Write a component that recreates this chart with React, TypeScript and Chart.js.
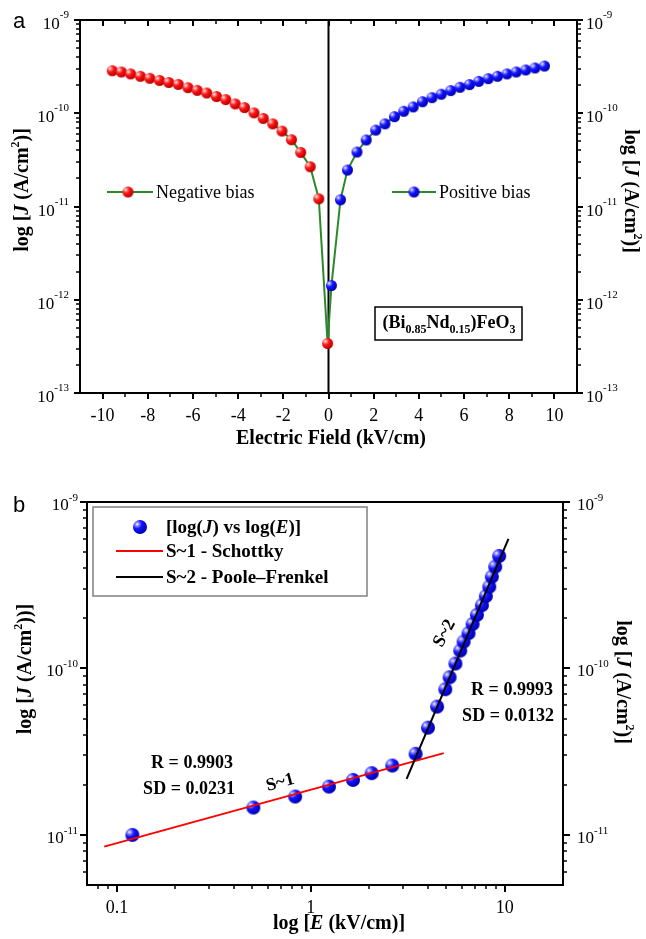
import React, { useEffect, useRef } from 'react';
import { Chart, registerables } from 'chart.js';
Chart.register(...registerables);

const SERIF = '"Liberation Serif", "Times New Roman", Times, serif';
const SANS = '"Liberation Sans", Arial, Helvetica, sans-serif';

// ---------- Panel (a) data ----------
const negE = [-9.57, -9.17, -8.76, -8.33, -7.91, -7.48, -7.07, -6.65, -6.22, -5.81, -5.39, -4.96, -4.55, -4.13, -3.72, -3.30, -2.89, -2.47, -2.06, -1.64, -1.23, -0.81, -0.43, -0.04];
const negJ = [2.86e-10, 2.77e-10, 2.64e-10, 2.49e-10, 2.37e-10, 2.25e-10, 2.14e-10, 2.04e-10, 1.88e-10, 1.76e-10, 1.65e-10, 1.51e-10, 1.40e-10, 1.26e-10, 1.15e-10, 1.01e-10, 8.8e-11, 7.7e-11, 6.45e-11, 5.2e-11, 3.8e-11, 2.67e-11, 1.21e-11, 3.4e-13];
const posE = [0.13, 0.53, 0.84, 1.26, 1.67, 2.09, 2.50, 2.92, 3.33, 3.75, 4.16, 4.58, 4.99, 5.41, 5.82, 6.24, 6.65, 7.07, 7.48, 7.90, 8.31, 8.73, 9.14, 9.56];
const posJ = [1.42e-12, 1.18e-11, 2.46e-11, 3.84e-11, 5.17e-11, 6.6e-11, 7.7e-11, 9.2e-11, 1.05e-10, 1.17e-10, 1.33e-10, 1.47e-10, 1.6e-10, 1.75e-10, 1.9e-10, 2.03e-10, 2.2e-10, 2.35e-10, 2.49e-10, 2.64e-10, 2.77e-10, 2.91e-10, 3.06e-10, 3.21e-10];
const zeroLineE = [0, 0];
const zeroLineJ = [1e-13, 1e-9];
const xTicksA = [-10, -8, -6, -4, -2, 0, 2, 4, 6, 8, 10];
const xMinorA = [-9, -7, -5, -3, -1, 1, 3, 5, 7, 9];
const yDecadesA = [-13, -12, -11, -10, -9];

// ---------- Panel (b) data ----------
const bE = [0.12, 0.505, 0.83, 1.24, 1.65, 2.06, 2.63, 3.47, 4.02, 4.48, 4.94, 5.20, 5.57, 5.90, 6.14, 6.51, 6.83, 7.19, 7.63, 8.0, 8.33, 8.59, 8.94, 9.37];
const bJ = [1.0e-11, 1.46e-11, 1.70e-11, 1.95e-11, 2.14e-11, 2.35e-11, 2.61e-11, 3.07e-11, 4.41e-11, 5.9e-11, 7.5e-11, 8.86e-11, 1.07e-10, 1.28e-10, 1.45e-10, 1.63e-10, 1.85e-10, 2.10e-10, 2.40e-10, 2.72e-10, 3.10e-10, 3.56e-10, 4.09e-10, 4.74e-10];
const schottkyE = [0.0859, 4.85];
const schottkyJ = [8.5e-12, 3.1e-11];
const pfE = [3.12, 10.46];
const pfJ = [2.17e-11, 6.0e-10];
const xTicksB = [0.1, 1, 10];
const xTickLabelsB = ['0.1', '1', '10'];
const yDecadesB = [-11, -10, -9];

// ---------- helpers ----------
type Seg = { t: string; size: number; b?: boolean; it?: boolean; dy?: number; family?: string };
const fontOf = (s: Seg) => `${s.it ? 'italic ' : ''}${s.b ? 'bold ' : ''}${s.size}px ${s.family || SERIF}`;
function richW(ctx: CanvasRenderingContext2D, segs: Seg[]) {
  let w = 0;
  for (const s of segs) { ctx.font = fontOf(s); w += ctx.measureText(s.t).width; }
  return w;
}
function rich(ctx: CanvasRenderingContext2D, segs: Seg[], x: number, y: number, align: 'left' | 'center' | 'right') {
  const w = richW(ctx, segs);
  let cx = align === 'left' ? x : align === 'center' ? x - w / 2 : x - w;
  ctx.textAlign = 'left';
  ctx.textBaseline = 'alphabetic';
  for (const s of segs) {
    ctx.font = fontOf(s);
    ctx.fillText(s.t, cx, y + (s.dy || 0));
    cx += ctx.measureText(s.t).width;
  }
}
function richRot(ctx: CanvasRenderingContext2D, segs: Seg[], cx: number, cy: number, angle: number, size: number) {
  ctx.save();
  ctx.translate(cx, cy);
  ctx.rotate(angle);
  rich(ctx, segs, 0, size * 0.3, 'center');
  ctx.restore();
}
function line(ctx: CanvasRenderingContext2D, x1: number, y1: number, x2: number, y2: number, w: number) {
  ctx.lineWidth = w;
  ctx.beginPath();
  ctx.moveTo(x1, y1);
  ctx.lineTo(x2, y2);
  ctx.stroke();
}
function makeBall(r: number, light: string, base: string, dark: string) {
  const s = Math.ceil(r * 2) + 2;
  const c = document.createElement('canvas');
  c.width = s; c.height = s;
  const g = c.getContext('2d')!;
  const cx = s / 2, cy = s / 2;
  const hx = cx - r * 0.4, hy = cy - r * 0.4;
  const grad = g.createRadialGradient(hx, hy, 0, hx, hy, r * 1.45);
  grad.addColorStop(0, '#ffffff');
  grad.addColorStop(0.18, light);
  grad.addColorStop(0.45, base);
  grad.addColorStop(1, dark);
  g.fillStyle = grad;
  g.beginPath();
  g.arc(cx, cy, r, 0, Math.PI * 2);
  g.fill();
  return c;
}
const pow10 = (exp: number, base: number, sup: number, supDy: number): Seg[] => [
  { t: '10', size: base },
  { t: `-${Math.abs(exp)}`, size: sup, dy: supDy },
];
const yTitle = (extraParen: boolean): Seg[] => [
  { t: 'log [', size: 20, b: true },
  { t: 'J', size: 20, b: true, it: true },
  { t: ' (A/cm', size: 20, b: true },
  { t: '2', size: 12, b: true, dy: -9 },
  { t: extraParen ? '))]' : ')]', size: 20, b: true },
];

const GREEN = '#2a8a2a';

function configA(redBall: HTMLCanvasElement, blueBall: HTMLCanvasElement): any {
  const neg = negE.map((x, i) => ({ x, y: negJ[i] }));
  const pos = posE.map((x, i) => ({ x, y: posJ[i] }));
  const zero = zeroLineE.map((x, i) => ({ x, y: zeroLineJ[i] }));
  const plugin = {
    id: 'axesA',
    afterDraw(chart: any) {
      const ctx: CanvasRenderingContext2D = chart.ctx;
      const { left, right, top, bottom } = chart.chartArea;
      const xs = chart.scales.x, ys = chart.scales.y;
      ctx.save();
      ctx.strokeStyle = '#000';
      ctx.fillStyle = '#000';
      ctx.lineWidth = 2;
      ctx.strokeRect(left, top, right - left, bottom - top);
      xTicksA.forEach(v => {
        const p = Math.round(xs.getPixelForValue(v));
        line(ctx, p, bottom, p, bottom + 6, 2);
        line(ctx, p, top, p, top + 6, 2);
      });
      xMinorA.forEach(v => {
        const p = Math.round(xs.getPixelForValue(v));
        line(ctx, p, bottom, p, bottom + 4, 1.5);
        line(ctx, p, top, p, top + 4, 1.5);
      });
      const yMaxExp = yDecadesA[yDecadesA.length - 1];
      yDecadesA.forEach(d => {
        const p = Math.round(ys.getPixelForValue(Math.pow(10, d)));
        line(ctx, left - 6, p, left, p, 2);
        line(ctx, right, p, right + 6, p, 2);
        if (d < yMaxExp) {
          for (let m = 2; m <= 9; m++) {
            const q = Math.round(ys.getPixelForValue(m * Math.pow(10, d)));
            line(ctx, left - 4, q, left, q, 1.5);
            line(ctx, right, q, right + 4, q, 1.5);
          }
        }
        rich(ctx, pow10(d, 17, 11, -11), left - 11, p + 9, 'right');
        rich(ctx, pow10(d, 17, 11, -11), right + 9, p + 9, 'left');
      });
      ctx.font = `18px ${SERIF}`;
      ctx.textAlign = 'center';
      ctx.textBaseline = 'alphabetic';
      xTicksA.forEach(v => {
        ctx.fillText(String(v), xs.getPixelForValue(v), bottom + 28);
      });
      // titles
      rich(ctx, [{ t: 'Electric Field (kV/cm)', size: 20, b: true }], 331, 444, 'center');
      richRot(ctx, yTitle(false), 22, 190, -Math.PI / 2, 20);
      richRot(ctx, yTitle(false), 631, 191, Math.PI / 2, 20);
      // panel letter
      ctx.font = `22px ${SANS}`;
      ctx.textAlign = 'left';
      ctx.fillText('a', 13, 28);
      // legend entries
      ctx.strokeStyle = GREEN;
      line(ctx, 107, 192, 153, 192, 2);
      ctx.drawImage(redBall, 128 - redBall.width / 2, 192 - redBall.height / 2);
      rich(ctx, [{ t: 'Negative bias', size: 18 }], 156, 198, 'left');
      line(ctx, 392, 192, 436, 192, 2);
      ctx.drawImage(blueBall, 414 - blueBall.width / 2, 192 - blueBall.height / 2);
      rich(ctx, [{ t: 'Positive bias', size: 18 }], 439, 198, 'left');
      // composition box
      ctx.strokeStyle = '#000';
      ctx.lineWidth = 1.5;
      ctx.strokeRect(375, 307, 147, 33);
      rich(ctx, [
        { t: '(Bi', size: 18, b: true },
        { t: '0.85', size: 12, b: true, dy: 5 },
        { t: 'Nd', size: 18, b: true },
        { t: '0.15', size: 12, b: true, dy: 5 },
        { t: ')FeO', size: 18, b: true },
        { t: '3', size: 12, b: true, dy: 5 },
      ], 449, 328, 'center');
      ctx.restore();
    },
  };
  return {
    type: 'scatter',
    data: {
      datasets: [
        { data: neg, pointStyle: redBall, pointRadius: 5.5, showLine: false, order: 0 },
        { data: pos, pointStyle: blueBall, pointRadius: 5.5, showLine: false, order: 0 },
        { data: [...neg, ...pos], showLine: true, borderColor: GREEN, borderWidth: 2, pointRadius: 0, order: 1 },
        { data: zero, showLine: true, borderColor: '#000', borderWidth: 2, pointRadius: 0, order: 2 },
      ],
    },
    options: {
      animation: false,
      responsive: false,
      maintainAspectRatio: false,
      devicePixelRatio: 1,
      events: [],
      layout: { padding: { left: 80, right: 69, top: 20, bottom: 77 } },
      scales: {
        x: { type: 'linear', min: -11, max: 11, display: false },
        y: { type: 'logarithmic', min: 1e-13, max: 1e-9, display: false },
      },
      plugins: { legend: { display: false }, tooltip: { enabled: false } },
    },
    plugins: [plugin],
  };
}

function configB(blueBall: HTMLCanvasElement): any {
  const pts = bE.map((x, i) => ({ x, y: bJ[i] }));
  const sch = schottkyE.map((x, i) => ({ x, y: schottkyJ[i] }));
  const pf = pfE.map((x, i) => ({ x, y: pfJ[i] }));
  const plugin = {
    id: 'axesB',
    afterDraw(chart: any) {
      const ctx: CanvasRenderingContext2D = chart.ctx;
      const { left, right, top, bottom } = chart.chartArea;
      const xs = chart.scales.x, ys = chart.scales.y;
      ctx.save();
      ctx.strokeStyle = '#000';
      ctx.fillStyle = '#000';
      ctx.lineWidth = 2;
      ctx.strokeRect(left, top, right - left, bottom - top);
      // x ticks (log)
      const xmin = xs.min, xmax = xs.max;
      for (let d = -2; d <= 1; d++) {
        for (let m = 1; m <= 9; m++) {
          const v = m * Math.pow(10, d);
          if (v < xmin * 1.0001 || v > xmax * 0.9999) continue;
          const p = Math.round(xs.getPixelForValue(v));
          if (m === 1) line(ctx, p, bottom, p, bottom + 7, 2);
          else line(ctx, p, bottom, p, bottom + 4, 1.5);
        }
      }
      ctx.font = `18px ${SERIF}`;
      ctx.textAlign = 'center';
      ctx.textBaseline = 'alphabetic';
      xTicksB.forEach((v, i) => ctx.fillText(xTickLabelsB[i], xs.getPixelForValue(v), bottom + 28));
      // y ticks (log)
      const ymin = ys.min, ymax = ys.max;
      for (let d = -12; d <= -9; d++) {
        for (let m = 1; m <= 9; m++) {
          const v = m * Math.pow(10, d);
          if (v < ymin * 1.0001 || v > ymax * 1.0001) continue;
          const p = Math.round(ys.getPixelForValue(v));
          if (m === 1) {
            line(ctx, left - 7, p, left, p, 2);
            line(ctx, right, p, right + 7, p, 2);
          } else {
            line(ctx, left - 4, p, left, p, 1.5);
            line(ctx, right, p, right + 4, p, 1.5);
          }
        }
      }
      yDecadesB.forEach(d => {
        const p = ys.getPixelForValue(Math.pow(10, d));
        rich(ctx, pow10(d, 17, 11, -9), left - 9, p + 8, 'right');
        rich(ctx, pow10(d, 17, 11, -9), right + 14, p + 8, 'left');
      });
      // titles
      rich(ctx, [
        { t: 'log [', size: 20, b: true },
        { t: 'E', size: 20, b: true, it: true },
        { t: ' (kV/cm)]', size: 20, b: true },
      ], 339, 459, 'center');
      richRot(ctx, yTitle(true), 25, 199, -Math.PI / 2, 20);
      richRot(ctx, yTitle(false), 623, 212, Math.PI / 2, 20);
      ctx.font = `22px ${SANS}`;
      ctx.textAlign = 'left';
      ctx.fillText('b', 13, 42);
      // legend
      ctx.strokeStyle = '#808080';
      ctx.lineWidth = 1.5;
      ctx.strokeRect(93, 37, 274, 89);
      ctx.drawImage(blueBall, 140 - blueBall.width / 2, 57 - blueBall.height / 2);
      rich(ctx, [
        { t: '[log(', size: 19, b: true },
        { t: 'J', size: 19, b: true, it: true },
        { t: ') vs log(', size: 19, b: true },
        { t: 'E', size: 19, b: true, it: true },
        { t: ')]', size: 19, b: true },
      ], 166, 63, 'left');
      ctx.strokeStyle = '#ff0000';
      line(ctx, 116, 81, 163, 81, 2);
      rich(ctx, [{ t: 'S~1 - Schottky', size: 19, b: true }], 166, 87, 'left');
      ctx.strokeStyle = '#000';
      line(ctx, 116, 107, 163, 107, 2);
      rich(ctx, [{ t: 'S~2 - Poole\u2013Frenkel', size: 19, b: true }], 166, 113, 'left');
      // annotations
      rich(ctx, [{ t: 'R = 0.9903', size: 18, b: true }], 192, 298, 'center');
      rich(ctx, [{ t: 'SD = 0.0231', size: 18, b: true }], 189, 324, 'center');
      richRot(ctx, [{ t: 'S~1', size: 18, b: true }], 280, 312, -15 * Math.PI / 180, 18);
      richRot(ctx, [{ t: 'S~2', size: 18, b: true }], 444, 163, -62 * Math.PI / 180, 18);
      rich(ctx, [{ t: 'R = 0.9993', size: 18, b: true }], 512, 225, 'center');
      rich(ctx, [{ t: 'SD = 0.0132', size: 18, b: true }], 508, 251, 'center');
      ctx.restore();
    },
  };
  return {
    type: 'scatter',
    data: {
      datasets: [
        { data: pts, pointStyle: blueBall, pointRadius: 7, showLine: false, order: 2 },
        { data: sch, showLine: true, borderColor: '#ff0000', borderWidth: 2, pointRadius: 0, order: 1 },
        { data: pf, showLine: true, borderColor: '#000000', borderWidth: 2, pointRadius: 0, order: 0 },
      ],
    },
    options: {
      animation: false,
      responsive: false,
      maintainAspectRatio: false,
      devicePixelRatio: 1,
      events: [],
      layout: { padding: { left: 87, right: 83, top: 32, bottom: 54 } },
      scales: {
        x: { type: 'logarithmic', min: 0.07, max: 20, display: false },
        y: { type: 'logarithmic', min: 5e-12, max: 1e-9, display: false },
      },
      plugins: { legend: { display: false }, tooltip: { enabled: false } },
    },
    plugins: [plugin],
  };
}

export default function App() {
  const refA = useRef<HTMLCanvasElement>(null);
  const refB = useRef<HTMLCanvasElement>(null);
  useEffect(() => {
    const redA = makeBall(5.5, '#ff8a8a', '#ff1414', '#b80000');
    const blueA = makeBall(5.5, '#8a8aff', '#1414ff', '#0000b0');
    const blueB = makeBall(7, '#8a8aff', '#1414ff', '#0000b0');
    const a = new Chart(refA.current!, configA(redA, blueA));
    const b = new Chart(refB.current!, configB(blueB));
    return () => { a.destroy(); b.destroy(); };
  }, []);
  return (
    <div style={{ position: 'absolute', left: 0, top: 0, width: 646, height: 939, background: '#ffffff' }}>
      <canvas ref={refA} width={646} height={470} style={{ position: 'absolute', left: 0, top: 0, width: 646, height: 470 }} />
      <canvas ref={refB} width={646} height={469} style={{ position: 'absolute', left: 0, top: 470, width: 646, height: 469 }} />
    </div>
  );
}
